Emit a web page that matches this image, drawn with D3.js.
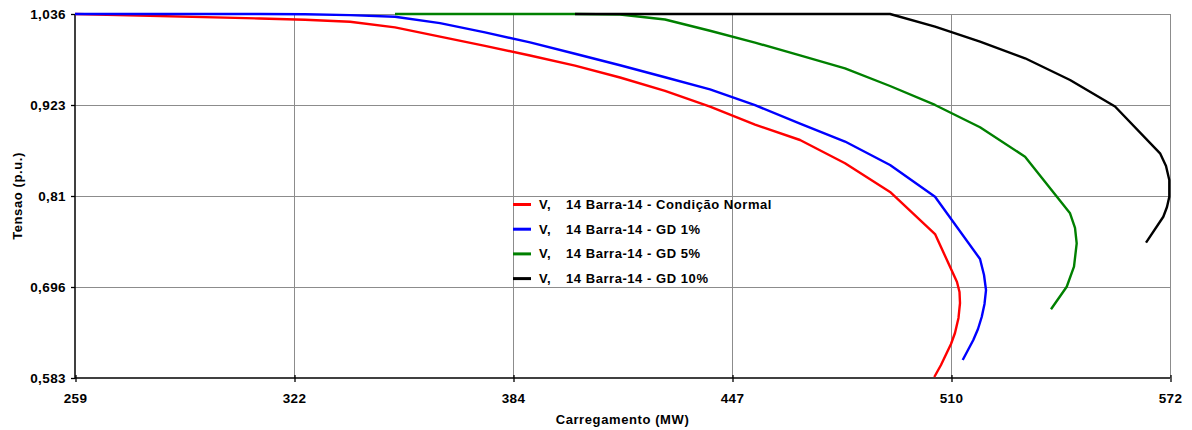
<!DOCTYPE html>
<html><head><meta charset="utf-8">
<script src="https://cdn.jsdelivr.net/npm/d3@7"></script>
<style>
body{margin:0;background:#fff}
text{font-family:"Liberation Sans",Arial,sans-serif;font-weight:bold;fill:#000}
</style>
</head><body>
<svg id="chart" width="1192" height="430"></svg>
<script>
// ---- data ----
const xTickLabels = ["259", "322", "384", "447", "510", "572"];
const yTickLabels = ["0,583", "0,696", "0,81", "0,923", "1,036"];
const xDomain = [259.3, 572.05];
const yDomain = [0.583, 1.036];

const seriesPrefix = ["V,", "V,", "V,", "V,"];
const seriesNames = ["14 Barra-14 - Condição Normal", "14 Barra-14 - GD 1%", "14 Barra-14 - GD 5%", "14 Barra-14 - GD 10%"];

const normalX = [259.3, 312.14, 325.0, 337.85, 350.70, 363.55, 376.40, 389.26, 402.11, 414.97, 427.82, 440.67, 453.53, 466.38, 479.23, 492.09, 504.94, 511.21, 511.93, 512.07, 511.64, 510.64, 509.50, 508.27, 506.64, 504.73];
const normalY = [1.036, 1.0304, 1.0288, 1.0263, 1.0193, 1.0079, 0.9963, 0.9844, 0.9718, 0.9570, 0.9404, 0.9206, 0.8983, 0.8792, 0.8502, 0.8145, 0.7622, 0.7025, 0.6900, 0.6763, 0.6577, 0.6390, 0.6253, 0.6141, 0.5992, 0.5842];

const gd1X = [259.3, 312.14, 325.0, 337.85, 350.70, 363.55, 376.40, 389.26, 402.11, 414.97, 427.82, 440.67, 453.53, 466.38, 479.23, 492.09, 504.94, 517.79, 518.93, 519.5, 519.07, 518.27, 517.21, 515.87, 512.84];
const gd1Y = [1.036, 1.036, 1.0356, 1.0346, 1.0325, 1.0246, 1.0131, 1.0007, 0.9865, 0.9722, 0.9573, 0.9423, 0.9225, 0.8996, 0.8773, 0.8481, 0.8086, 0.7311, 0.7112, 0.6925, 0.6751, 0.6589, 0.6440, 0.6303, 0.6054];

const gd5X = [350.70, 402.11, 414.97, 427.82, 440.67, 453.53, 466.38, 479.23, 492.09, 504.94, 517.79, 530.65, 543.50, 544.92, 545.4, 544.63, 542.55, 538.06];
const gd5Y = [1.036, 1.036, 1.0353, 1.0292, 1.0152, 1.0004, 0.9844, 0.9684, 0.9464, 0.9228, 0.8950, 0.8584, 0.7880, 0.7697, 0.7506, 0.7215, 0.6966, 0.6685];

const gd10X = [402.11, 492.09, 504.94, 517.79, 530.65, 543.50, 556.35, 569.21, 570.91, 571.85, 571.85, 571.19, 570.14, 565.2];
const gd10Y = [1.036, 1.036, 1.0204, 1.0015, 0.9809, 0.9539, 0.9209, 0.8626, 0.8468, 0.8294, 0.8086, 0.7958, 0.7837, 0.7514];

// ---- layout ----
const svg = d3.select("#chart");
const L = 75, R = 1170, T = 14, B = 378;
const colors = ["#ff0000", "#0000ff", "#008000", "#000000"];
const FONT = '"Liberation Sans",Arial,sans-serif';

const x = d3.scaleLinear().domain(xDomain).range([L, R]);
const y = d3.scaleLinear().domain(yDomain).range([B, T]);

const xTicks = xTickLabels.map((d, i) => xDomain[0] + i * (xDomain[1] - xDomain[0]) / (xTickLabels.length - 1));
const yTicks = yTickLabels.map((d, i) => yDomain[0] + i * (yDomain[1] - yDomain[0]) / (yTickLabels.length - 1));

// gridlines
const grid = svg.append("g");
grid.selectAll("line.v").data(xTicks.slice(1)).join("line")
  .attr("x1", d => Math.round(x(d)) + 0.5).attr("x2", d => Math.round(x(d)) + 0.5)
  .attr("y1", T).attr("y2", B).attr("stroke", "#8c8c8c").attr("stroke-width", 1);
grid.selectAll("line.h").data(yTicks.slice(1)).join("line")
  .attr("x1", L).attr("x2", R)
  .attr("y1", d => Math.round(y(d)) + 0.5).attr("y2", d => Math.round(y(d)) + 0.5)
  .attr("stroke", "#8c8c8c").attr("stroke-width", 1);

// axes
const xAxis = d3.axisBottom(x).tickValues(xTicks).tickFormat((d, i) => xTickLabels[i]).tickSize(0).tickPadding(15);
const gx = svg.append("g").attr("transform", `translate(0,${B})`).call(xAxis);
gx.select(".domain").remove();
gx.selectAll("text").attr("font-size", 13.5).style("font-family", FONT).style("font-weight", "bold").style("letter-spacing", "0.4px");
gx.selectAll(".tick").append("line").attr("x1", 0.5).attr("x2", 0.5).attr("y1", -3).attr("y2", 4).attr("stroke", "#000").attr("stroke-width", 1.3);

const yAxis = d3.axisLeft(y).tickValues(yTicks).tickFormat((d, i) => yTickLabels[i]).tickSize(4).tickPadding(5);
const gy = svg.append("g").attr("transform", `translate(${L},0)`).call(yAxis);
gy.select(".domain").remove();
gy.selectAll(".tick line").attr("stroke", "#000").attr("stroke-width", 1.3);
gy.selectAll("text").attr("font-size", 13.5).style("font-family", FONT).style("font-weight", "bold").style("letter-spacing", "0.4px");

svg.append("line").attr("x1", L).attr("x2", L).attr("y1", T).attr("y2", B + 0.5).attr("stroke", "#000").attr("stroke-width", 1.5);
svg.append("line").attr("x1", L).attr("x2", R).attr("y1", B).attr("y2", B).attr("stroke", "#000").attr("stroke-width", 1.5);

// series
const series = [
  {xs: normalX, ys: normalY},
  {xs: gd1X, ys: gd1Y},
  {xs: gd5X, ys: gd5Y},
  {xs: gd10X, ys: gd10Y}
];
const line = d3.line().x(d => x(d[0])).y(d => y(d[1]));
series.forEach((s, i) => {
  const pts = s.xs.map((v, j) => [v, s.ys[j]]);
  svg.append("path").datum(pts).attr("d", line)
    .attr("fill", "none").attr("stroke", colors[i]).attr("stroke-width", 2.4)
    .attr("stroke-linejoin", "round");
});

// legend
const lg = svg.append("g");
seriesNames.forEach((name, i) => {
  const yy = 204.5 + i * 24.7;
  lg.append("line").attr("x1", 513).attr("x2", 531).attr("y1", yy).attr("y2", yy)
    .attr("stroke", colors[i]).attr("stroke-width", 3);
  lg.append("text").attr("x", 539).attr("y", yy + 4.5).attr("font-size", 13).style("letter-spacing", "0.5px").text(seriesPrefix[i]);
  lg.append("text").attr("x", 566).attr("y", yy + 4.5).attr("font-size", 13).style("letter-spacing", "0.55px").text(name);
});

// titles
svg.append("text").attr("x", (L + R) / 2).attr("y", 424).attr("text-anchor", "middle")
  .attr("font-size", 13).style("letter-spacing", "0.6px").text("Carregamento (MW)");
svg.append("text").attr("transform", `translate(22,${(T + B) / 2}) rotate(-90)`).attr("text-anchor", "middle")
  .attr("font-size", 13).style("letter-spacing", "0.6px").text("Tensao (p.u.)");
</script>
</body></html>
